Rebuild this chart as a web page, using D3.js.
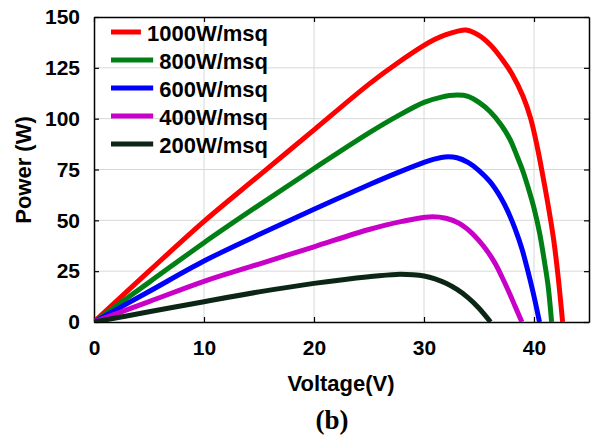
<!DOCTYPE html>
<html>
<head>
<meta charset="utf-8" />
<script src="https://d3js.org/d3.v7.min.js"></script>
<style>
  body { margin: 0; background: #fff; }
  text { font-family: "Liberation Sans", Arial, sans-serif; font-weight: bold; fill: #000; }
</style>
</head>
<body>
<div id="canvas"></div>
<script>
// data (voltage in V, power in W)
var labels = ["1000W/msq", "800W/msq", "600W/msq", "400W/msq", "200W/msq"];
var colors = ["#ff0000", "#008014", "#0000ff", "#c800c8", "#0c2616"];

var v1000 = [0, 5, 10, 15, 20, 25, 27.5, 30, 31, 32, 33, 33.8, 35, 36, 37, 38, 39, 39.7, 40.3, 40.8, 41.3, 41.8, 42.2, 42.6];
var p1000 = [0, 25, 49.5, 72, 94.5, 117, 127, 136, 139, 141.3, 142.9, 143.6, 141, 136.5, 130, 122, 111, 100, 86, 72, 57, 40, 22, 0];

var v800 = [0, 5, 10, 15, 20, 25, 27.5, 30, 31.5, 33, 34, 35, 36, 37, 37.8, 38.5, 39, 39.5, 40, 40.5, 41, 41.3, 41.6];
var p800 = [0, 19.5, 39, 57.5, 75.5, 93, 101, 108, 110.5, 111.6, 111, 108, 103.5, 97, 90, 81, 74, 65.5, 56, 44, 28, 17, 0];

var v600 = [0, 5, 10, 15, 20, 25, 27.5, 30, 31, 31.9, 33, 34, 35, 36, 37, 37.7, 38.3, 38.9, 39.4, 39.9, 40.5];
var p600 = [0, 15, 30, 43, 55.5, 67.5, 73.2, 78.5, 80.2, 81.2, 80.8, 78.5, 74.5, 69, 61, 53.5, 45.5, 36, 26, 15, 0];

var v400 = [0, 5, 10, 15, 20, 25, 28, 30.5, 32, 33.2, 34.2, 35, 35.8, 36.5, 37.1, 37.7, 38.3, 38.9];
var p400 = [0, 10, 20, 28.5, 37, 45.5, 49.5, 51.7, 51, 48.5, 44.5, 40, 34.5, 28.5, 22, 15, 7.5, 0];

var v200 = [0, 5, 10, 15, 20, 25, 27.5, 29, 30, 31, 32, 33, 34, 35, 36.05];
var p200 = [0, 5, 10, 14.8, 19, 22.3, 23.4, 23.2, 22.6, 21.2, 19, 16, 12, 6.8, 0];

var xTicks = [0, 10, 20, 30, 40];
var yTicks = [0, 25, 50, 75, 100, 125, 150];

var series = [[v1000, p1000], [v800, p800], [v600, p600], [v400, p400], [v200, p200]];

var W = 592, H = 439;
var margin = {top: 17, right: 3, bottom: 117, left: 94};
var w = W - margin.left - margin.right;
var h = H - margin.top - margin.bottom;

var svg = d3.select("#canvas").append("svg")
    .attr("width", W)
    .attr("height", H);

var x = d3.scaleLinear().domain([0, 45]).range([0, w]);
var y = d3.scaleLinear().domain([0, 150]).range([h, 0]);

var g = svg.append("g").attr("transform", "translate(" + margin.left + "," + margin.top + ")");

// grid
g.append("g").selectAll("line").data(xTicks.slice(1)).enter().append("line")
    .attr("x1", d => x(d)).attr("x2", d => x(d))
    .attr("y1", 0).attr("y2", h)
    .attr("stroke", "#d8d8d8").attr("stroke-width", 1);
g.append("g").selectAll("line").data(yTicks.slice(1, -1)).enter().append("line")
    .attr("y1", d => y(d)).attr("y2", d => y(d))
    .attr("x1", 0).attr("x2", w)
    .attr("stroke", "#d8d8d8").attr("stroke-width", 1);

// axes with inward ticks on all four sides
var axB = g.append("g").attr("transform", "translate(0," + h + ")")
    .call(d3.axisBottom(x).tickValues(xTicks).tickSizeInner(-5).tickSizeOuter(0).tickPadding(18));
var axT = g.append("g")
    .call(d3.axisTop(x).tickValues(xTicks).tickSizeInner(-5).tickSizeOuter(0).tickFormat(""));
var axL = g.append("g")
    .call(d3.axisLeft(y).tickValues(yTicks).tickSizeInner(-5).tickSizeOuter(0).tickPadding(14));
var axR = g.append("g").attr("transform", "translate(" + w + ",0)")
    .call(d3.axisRight(y).tickValues(yTicks).tickSizeInner(-5).tickSizeOuter(0).tickFormat(""));

[axB, axT, axL, axR].forEach(function(a){
    a.select(".domain").attr("stroke", "#000").attr("stroke-width", 1.5);
    a.selectAll(".tick line").attr("stroke", "#000").attr("stroke-width", 1.2);
    a.selectAll("text").style("font-size", "21px").style("font-family", "Liberation Sans, Arial, sans-serif").style("font-weight", "bold");
});

// curves
g.append("clipPath").attr("id", "clip").append("rect")
    .attr("width", w).attr("height", h);

var line = d3.line()
    .x(d => x(d[0]))
    .y(d => y(d[1]))
    .curve(d3.curveCatmullRom.alpha(0.5));

series.forEach(function(s, i){
    var pts = s[0].map(function(v, k){ return [v, s[1][k]]; });
    g.append("path")
        .attr("clip-path", "url(#clip)")
        .attr("d", line(pts))
        .attr("fill", "none")
        .attr("stroke", colors[i])
        .attr("stroke-width", 5)
        .attr("stroke-linejoin", "round");
});

// legend
var leg = svg.append("g");
labels.forEach(function(lab, i){
    var yy = 33 + i * 28;
    var t = leg.append("text")
        .attr("x", 268).attr("y", yy)
        .attr("dy", "0.36em")
        .attr("text-anchor", "end")
        .style("font-size", "22px")
        .text(lab);
    var tl = t.node().getComputedTextLength();
    leg.append("line")
        .attr("x1", 111).attr("x2", 268 - tl - 6)
        .attr("y1", yy - 1).attr("y2", yy - 1)
        .attr("stroke", colors[i])
        .attr("stroke-width", 5);
});

// axis titles
svg.append("text")
    .attr("x", 341).attr("y", 391)
    .attr("text-anchor", "middle")
    .style("font-size", "22px")
    .text("Voltage(V)");

svg.append("text")
    .attr("transform", "translate(31,170) rotate(-90)")
    .attr("text-anchor", "middle")
    .style("font-size", "22px")
    .text("Power (W)");

svg.append("text")
    .attr("x", 332).attr("y", 429)
    .attr("text-anchor", "middle")
    .style("font-family", "Liberation Serif, Times New Roman, serif")
    .style("font-size", "27px")
    .text("(b)");
</script>
</body>
</html>
